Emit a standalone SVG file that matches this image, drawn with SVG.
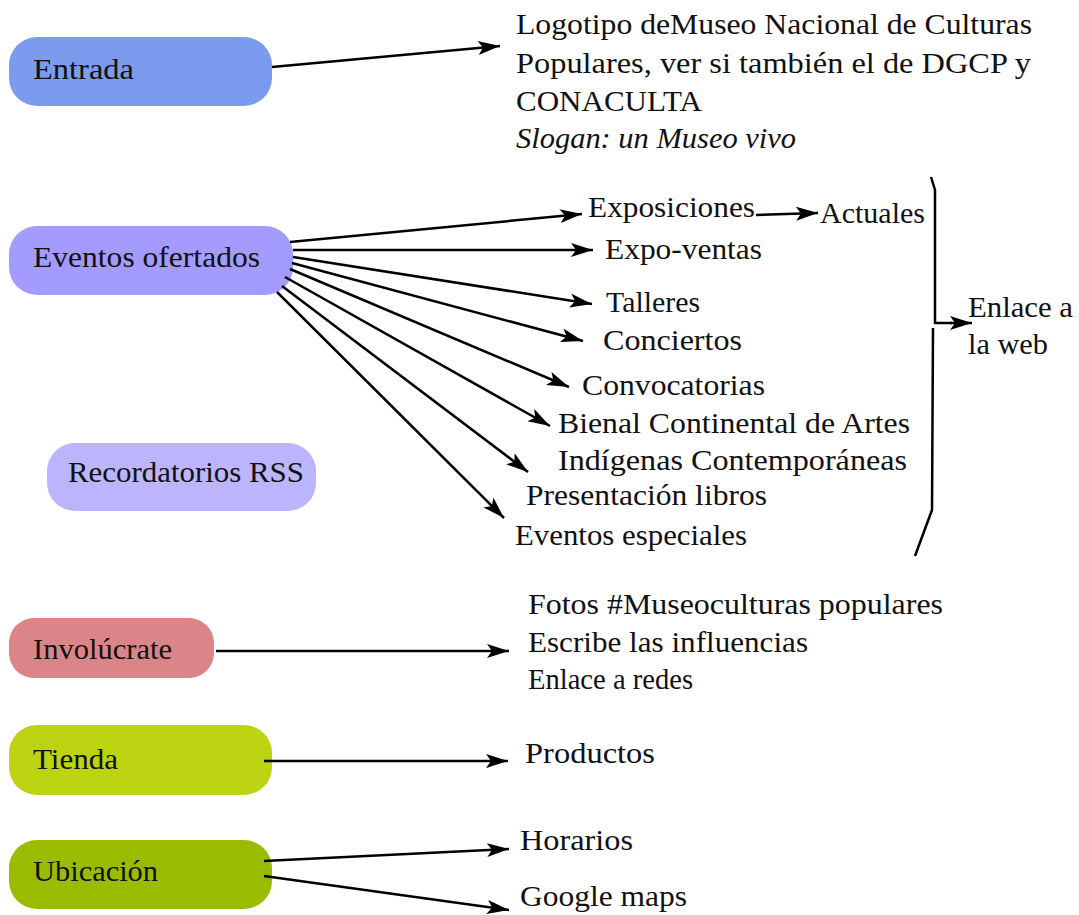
<svg xmlns="http://www.w3.org/2000/svg" width="1079" height="915" viewBox="0 0 1079 915">
<defs>
<marker id="ah" markerUnits="userSpaceOnUse" markerWidth="24" markerHeight="16" refX="22" refY="7" orient="auto">
<path d="M0,0 L22,7 L0,14 L5,7 Z" fill="#000"/>
</marker>
<style>
text{font-family:"Liberation Serif","Times New Roman",serif;font-size:30px;fill:#111;}
.c{fill:none;stroke:#000;stroke-width:2.5;marker-end:url(#ah);}
.b{fill:none;stroke:#000;stroke-width:2.5;}
</style>
</defs>
<rect width="1079" height="915" fill="#fff"/>
<g id="n-entrada"><rect x="9" y="37" width="263" height="69" rx="28" fill="#7b9bee"/><text x="33" y="79" textLength="101" lengthAdjust="spacingAndGlyphs">Entrada</text></g>
<g id="n-eventos"><rect x="9" y="226" width="284" height="69" rx="28" fill="#a39bfd"/><text x="33" y="267" textLength="227" lengthAdjust="spacingAndGlyphs">Eventos ofertados</text></g>
<g id="n-rss"><rect x="47" y="443" width="269" height="68" rx="28" fill="#bcb4fc"/><text x="68" y="482" textLength="236" lengthAdjust="spacingAndGlyphs">Recordatorios RSS</text></g>
<g id="n-involucrate"><rect x="9" y="618" width="205" height="60" rx="25" fill="#dc8588"/><text x="33" y="659" textLength="139" lengthAdjust="spacingAndGlyphs">Involúcrate</text></g>
<g id="n-tienda"><rect x="9" y="725" width="263" height="70" rx="28" fill="#bcd312"/><text x="33" y="769" textLength="85" lengthAdjust="spacingAndGlyphs">Tienda</text></g>
<g id="n-ubicacion"><rect x="9" y="840" width="263" height="69" rx="28" fill="#99bb00"/><text x="33" y="881" textLength="125" lengthAdjust="spacingAndGlyphs">Ubicación</text></g>

<g id="t-logo">
<text x="516" y="34" textLength="516" lengthAdjust="spacingAndGlyphs">Logotipo deMuseo Nacional de Culturas</text>
<text x="516" y="73" textLength="515" lengthAdjust="spacingAndGlyphs">Populares, ver si también el de DGCP y</text>
<text x="516" y="111" textLength="186" lengthAdjust="spacingAndGlyphs">CONACULTA</text>
<text x="516" y="148" font-style="italic" textLength="280" lengthAdjust="spacingAndGlyphs">Slogan: un Museo vivo</text>
</g>
<g id="t-eventos">
<text x="588" y="217" textLength="167" lengthAdjust="spacingAndGlyphs">Exposiciones</text>
<text x="820" y="223" textLength="105" lengthAdjust="spacingAndGlyphs">Actuales</text>
<text x="605" y="259" textLength="157" lengthAdjust="spacingAndGlyphs">Expo-ventas</text>
<text x="606" y="312" textLength="94" lengthAdjust="spacingAndGlyphs">Talleres</text>
<text x="603" y="350" textLength="139" lengthAdjust="spacingAndGlyphs">Conciertos</text>
<text x="582" y="395" textLength="183" lengthAdjust="spacingAndGlyphs">Convocatorias</text>
<text x="558" y="433" textLength="352" lengthAdjust="spacingAndGlyphs">Bienal Continental de Artes</text>
<text x="558" y="470" textLength="349" lengthAdjust="spacingAndGlyphs">Indígenas Contemporáneas</text>
<text x="526" y="505" textLength="241" lengthAdjust="spacingAndGlyphs">Presentación libros</text>
<text x="515" y="545" textLength="232" lengthAdjust="spacingAndGlyphs">Eventos especiales</text>
<text x="968" y="317" textLength="105" lengthAdjust="spacingAndGlyphs">Enlace a</text>
<text x="968" y="354" textLength="80" lengthAdjust="spacingAndGlyphs">la web</text>
</g>
<g id="t-involucrate">
<text x="528" y="614" textLength="415" lengthAdjust="spacingAndGlyphs">Fotos #Museoculturas populares</text>
<text x="528" y="652" textLength="280" lengthAdjust="spacingAndGlyphs">Escribe las influencias</text>
<text x="528" y="689" textLength="165" lengthAdjust="spacingAndGlyphs">Enlace a redes</text>
</g>
<g id="t-tienda"><text x="525" y="763" textLength="130" lengthAdjust="spacingAndGlyphs">Productos</text></g>
<g id="t-ubicacion">
<text x="520" y="850" textLength="113" lengthAdjust="spacingAndGlyphs">Horarios</text>
<text x="520" y="906" textLength="167" lengthAdjust="spacingAndGlyphs">Google maps</text>
</g>

<g id="connectors">
<line class="c" x1="272" y1="67" x2="500" y2="46"/>
<line class="c" x1="290" y1="242" x2="582" y2="214"/>
<line class="c" x1="293" y1="250" x2="593" y2="250"/>
<line class="c" x1="293" y1="257" x2="592" y2="304"/>
<line class="c" x1="292" y1="263" x2="583" y2="341"/>
<line class="c" x1="290" y1="269" x2="569" y2="387"/>
<line class="c" x1="285" y1="277" x2="550" y2="426"/>
<line class="c" x1="282" y1="286" x2="528" y2="472"/>
<line class="c" x1="277" y1="292" x2="504" y2="518"/>
<line class="c" x1="756" y1="215" x2="818" y2="213"/>
<path class="b" d="M931,177 L935,190 L935,323 L952,323"/>
<line class="c" x1="950" y1="323" x2="972" y2="323"/>
<path class="b" d="M933,328 L932,510 L915,556"/>
<line class="c" x1="216" y1="651" x2="509" y2="651"/>
<line class="c" x1="264" y1="761" x2="508" y2="761"/>
<line class="c" x1="264" y1="861" x2="509" y2="849"/>
<line class="c" x1="264" y1="876" x2="509" y2="910"/>
</g>
</svg>
